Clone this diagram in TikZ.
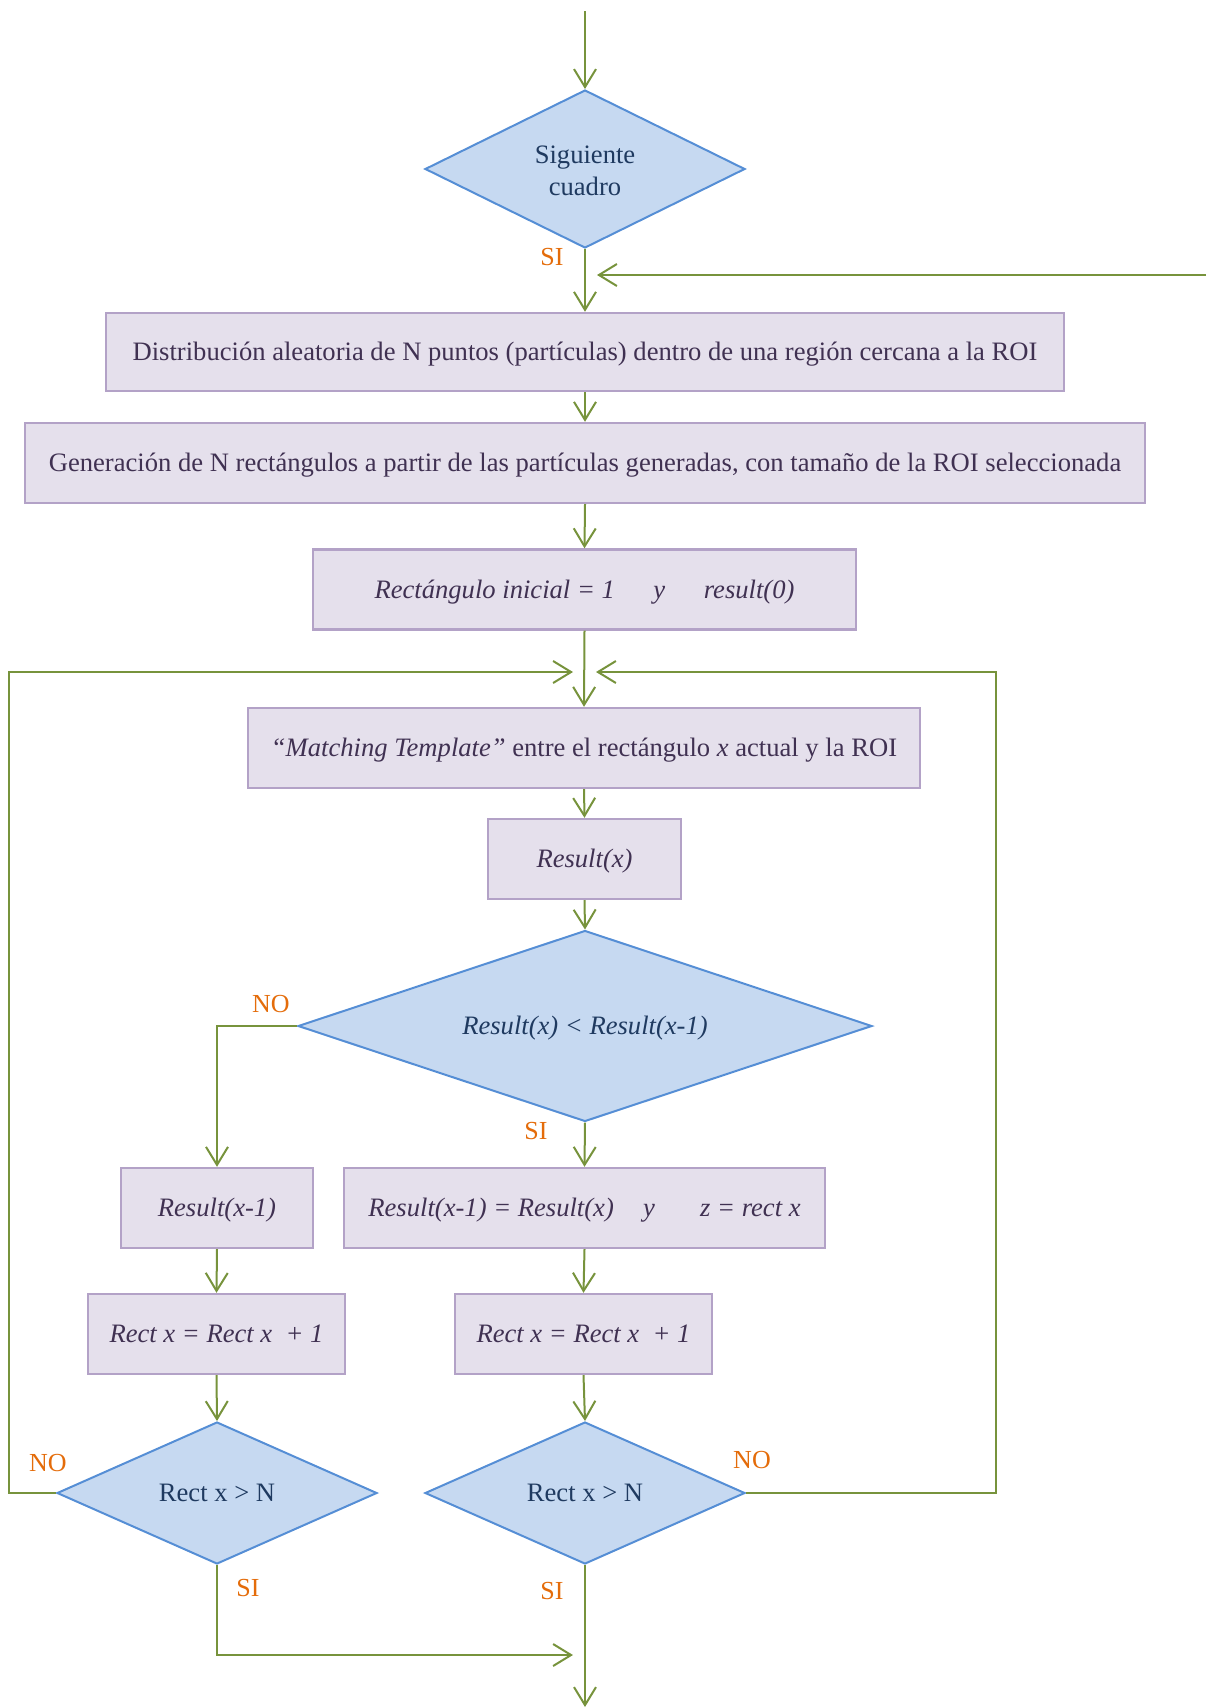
\documentclass[tikz,border=0pt]{standalone}
\usepackage{fontspec}
\setmainfont{Liberation Serif}
\usetikzlibrary{shapes.geometric,arrows.meta}

\definecolor{flowgreen}{HTML}{77933C}
\definecolor{decfill}{HTML}{C6D9F1}
\definecolor{decline}{HTML}{558ED5}
\definecolor{decText}{HTML}{1F3A60}
\definecolor{procfill}{HTML}{E5E0EC}
\definecolor{procline}{HTML}{B3A2C7}
\definecolor{procText}{HTML}{403152}
\definecolor{tagcol}{HTML}{E46C0A}

\tikzset{
  proc/.style={rectangle, draw=procline, fill=procfill, line width=1.2pt,
    inner sep=0pt, minimum height=40pt, text=procText,
    text height=8.8pt, text depth=0pt,
    font=\fontsize{13.3}{16}\selectfont},
  decision/.style={diamond, draw=decline, fill=decfill, line width=1pt,
    inner sep=0pt, text=decText, align=center,
    font=\fontsize{13.3}{16}\selectfont},
  oneline/.style={text height=8.8pt, text depth=0pt},
  flow/.style={draw=flowgreen, line width=1pt,
    -{Straight Barb[length=9pt,width=11pt,line width=1pt]}},
  tag/.style={text=tagcol, inner sep=0pt, font=\fontsize{13}{15}\selectfont}
}

\begin{document}
\begin{tikzpicture}[x=0.5pt,y=-0.5pt]
\useasboundingbox (0,0) rectangle (1206,1708);

% decision and process blocks
\node[decision, minimum width=160pt, minimum height=79pt, shape aspect=2]
  (d1) at (585,169) {\raisebox{-5.5pt}[0pt][0pt]{\begin{tabular}{@{}c@{}}Siguiente\\cuadro\end{tabular}}};
\node[proc, minimum width=479pt, minimum height=39pt] (b1) at (585,352)
  {Distribución aleatoria de N puntos (partículas) dentro de una región cercana a la ROI};
\node[proc, minimum width=560pt] (b2) at (585,463)
  {Generación de N rectángulos a partir de las partículas generadas, con tamaño de la ROI seleccionada};
\node[proc, minimum width=271.5pt] (b3) at (584.5,589.5)
  {\itshape Rectángulo inicial = 1\hspace{1.45em}y\hspace{1.45em}result(0)};
\node[proc, minimum width=336pt] (b4) at (584,748)
  {\textit{“Matching Template”} entre el rectángulo \textit{x} actual y la ROI};
\node[proc, minimum width=96.5pt] (b5) at (584.5,859) {\itshape Result(x)};
\node[decision, oneline, minimum width=287pt, minimum height=95.5pt, shape aspect=3]
  (d2) at (585,1026) {\itshape Result(x) < Result(x-1)};
\node[proc, minimum width=96pt] (b6) at (217,1208) {\itshape Result(x-1)};
\node[proc, minimum width=240.5pt] (b7) at (584.5,1208)
  {\itshape Result(x-1) = Result(x)\hspace{1.1em}y\hspace{1.7em}z = rect x};
\node[proc, minimum width=128.5pt] (b8) at (216.5,1334) {\itshape Rect x = Rect x\ \ + 1};
\node[proc, minimum width=128.5pt] (b9) at (583.5,1334) {\itshape Rect x = Rect x\ \ + 1};
\node[decision, oneline, minimum width=160pt, minimum height=71pt, shape aspect=2.25]
  (d3) at (217,1493) {Rect x > N};
\node[decision, oneline, minimum width=160pt, minimum height=71pt, shape aspect=2.25]
  (d4) at (585,1493) {Rect x > N};

% free ends of connectors
\coordinate (start) at (585,11);
\coordinate (feed) at (1206,275);
\coordinate (feedtip) at (597,275);
\coordinate (lcorner) at (9,672);
\coordinate (ltip) at (573,672);
\coordinate (rcorner) at (996,672);
\coordinate (rtip) at (596,672);
\coordinate (jointip) at (573,1655);
\coordinate (finish) at (585,1707);

% connectors
\draw[flow] (start) -- (d1.north);
\draw[flow] (d1.south) -- (b1.north);
\draw[flow] (feed) -- (feedtip);
\draw[flow] (b1.south) -- (b2.north);
\draw[flow] (b2.south) -- (b3.north);
\draw[flow] (b3.south) -- (b4.north);
\draw[flow] (d3.west) -| (lcorner) -- (ltip);
\draw[flow] (d4.east) -| (rcorner) -- (rtip);
\draw[flow] (b4.south) -- (b5.north);
\draw[flow] (b5.south) -- (d2.north);
\draw[flow] (d2.west) -| (b6.north);
\draw[flow] (d2.south) -- (b7.north);
\draw[flow] (b6.south) -- (b8.north);
\draw[flow] (b7.south) -- (b9.north);
\draw[flow] (b8.south) -- (d3.north);
\draw[flow] (b9.south) -- (d4.north);
\draw[flow] (d3.south) |- (jointip);
\draw[flow] (d4.south) -- (finish);

% branch labels
\node[tag] (t1) at (552,257) {SI};
\node[tag] (t2) at (536,1131) {SI};
\node[tag] (t3) at (271,1004) {NO};
\node[tag] (t4) at (48,1463) {NO};
\node[tag] (t5) at (752,1460) {NO};
\node[tag] (t6) at (248,1588) {SI};
\node[tag] (t7) at (552,1591) {SI};
\end{tikzpicture}
\end{document}
